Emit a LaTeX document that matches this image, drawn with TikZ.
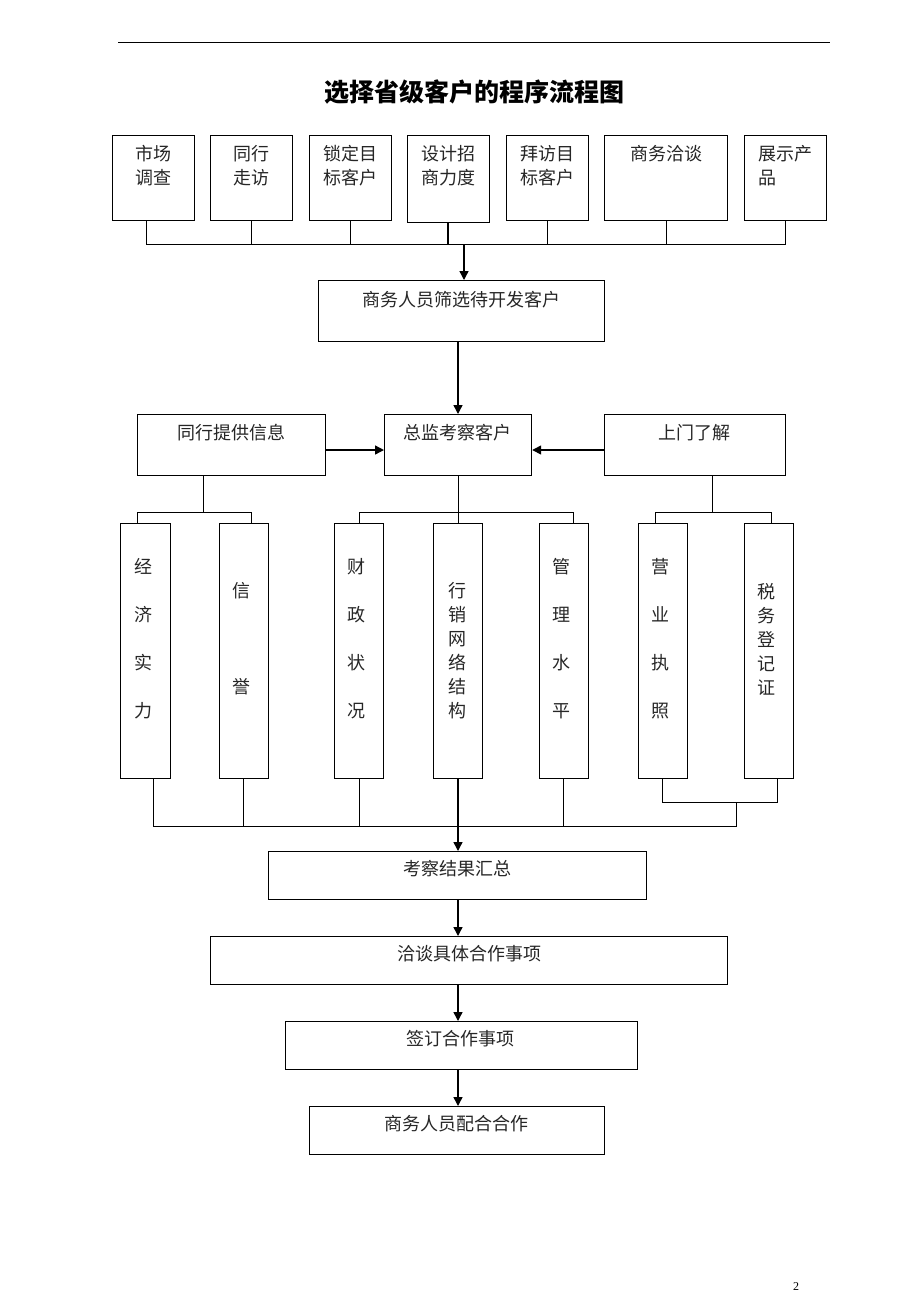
\documentclass[tikz,border=0pt]{standalone}
\usepackage{fontspec}
\setmainfont{Noto Sans CJK SC}
\newfontfamily\numfont{Liberation Serif}
\usetikzlibrary{arrows.meta}
\begin{document}
\begin{tikzpicture}[x=1pt,y=-1pt,
  box/.style={draw, line width=1.2pt, inner sep=0pt, anchor=north west},
  lbl/.style={inner sep=0pt, text=black!85, font=\fontsize{18}{24}\selectfont, align=center},
  vlbl/.style={inner sep=0pt, text=black!85, align=center},
  thinln/.style={line width=0.9pt},
  arr/.style={line width=1.4pt, -{Triangle[length=9pt,width=9pt]}}]
\useasboundingbox (0,0) rectangle (920,1302);
% top rule and title
\coordinate (rl) at (118,42);
\coordinate (rr) at (830,42);
\draw[line width=1pt] (rl) -- (rr);
\node[inner sep=0pt, font=\fontsize{25}{28}\selectfont\bfseries] (title) at (474,92) {选择省级客户的程序流程图};
% top row
\node[box, minimum width=82pt, minimum height=85pt] (b1) at (112,135) {};
\node[box, minimum width=82pt, minimum height=85pt] (b2) at (210,135) {};
\node[box, minimum width=82pt, minimum height=85pt] (b3) at (309,135) {};
\node[box, minimum width=82pt, minimum height=87pt] (b4) at (407,135) {};
\node[box, minimum width=82pt, minimum height=85pt] (b5) at (506,135) {};
\node[box, minimum width=123pt, minimum height=85pt] (b6) at (604,135) {};
\node[box, minimum width=82pt, minimum height=85pt] (b7) at (744,135) {};
\node[lbl] (t1) at (153,166) {市场\\调查};
\node[lbl] (t2) at (251,166) {同行\\走访};
\node[lbl] (t3) at (350,166) {锁定目\\标客户};
\node[lbl] (t4) at (448,166) {设计招\\商力度};
\node[lbl] (t5) at (547,166) {拜访目\\标客户};
\node[lbl] (t6) at (666,154) {商务洽谈};
\node[lbl, align=left] (t7) at (785,166) {展示产\\品};
% top bus
\coordinate (s1) at (146,244);
\coordinate (s2) at (251,244);
\coordinate (s3) at (350,244);
\coordinate (s4) at (448,244);
\coordinate (s5) at (547,244);
\coordinate (s6) at (666,244);
\coordinate (s7) at (785,244);
\coordinate (sa) at (464,244);
\draw[thinln] (b1.south -| s1) -- (s1) -- (s7) -- (b7.south -| s7);
\draw[thinln] (b2.south -| s2) -- (s2);
\draw[thinln] (b3.south -| s3) -- (s3);
\draw[line width=1.4pt] (b4.south -| s4) -- (s4);
\draw[thinln] (b5.south -| s5) -- (s5);
\draw[thinln] (b6.south -| s6) -- (s6);
% screening box
\node[box, minimum width=286pt, minimum height=61pt] (n1) at (318,280) {};
\node[lbl] (tn1) at (461,300) {商务人员筛选待开发客户};
\draw[arr] (sa) -- (n1.north -| sa);
% row 3
\node[box, minimum width=188pt, minimum height=61pt] (m1) at (137,414) {};
\node[box, minimum width=147pt, minimum height=61pt] (m2) at (384,414) {};
\node[box, minimum width=181pt, minimum height=61pt] (m3) at (604,414) {};
\node[lbl] (tm1) at (231,433) {同行提供信息};
\node[lbl] (tm2) at (457.5,433) {总监考察客户};
\node[lbl] (tm3) at (694.5,433) {上门了解};
\coordinate (x458) at (458,0);
\draw[arr] (n1.south -| x458) -- (m2.north -| x458);
\coordinate (ya) at (0,450);
\draw[arr] (m1.east |- ya) -- (m2.west |- ya);
\draw[arr] (m3.west |- ya) -- (m2.east |- ya);
% vertical boxes
\node[box, minimum width=50pt, minimum height=255pt] (v1) at (120,523) {};
\node[box, minimum width=49pt, minimum height=255pt] (v2) at (219,523) {};
\node[box, minimum width=49pt, minimum height=255pt] (v3) at (334,523) {};
\node[box, minimum width=49pt, minimum height=255pt] (v4) at (433,523) {};
\node[box, minimum width=49pt, minimum height=255pt] (v5) at (539,523) {};
\node[box, minimum width=49pt, minimum height=255pt] (v6) at (638,523) {};
\node[box, minimum width=49pt, minimum height=255pt] (v7) at (744,523) {};
\node[vlbl, font=\fontsize{18}{48}\selectfont] (tv1) at (143,639) {经\\济\\实\\力};
\node[vlbl, font=\fontsize{18}{96}\selectfont] (tv2) at (241,639) {信\\誉};
\node[vlbl, font=\fontsize{18}{48}\selectfont] (tv3) at (356,639) {财\\政\\状\\况};
\node[vlbl, font=\fontsize{18}{24}\selectfont] (tv4) at (457,651) {行\\销\\网\\络\\结\\构};
\node[vlbl, font=\fontsize{18}{48}\selectfont] (tv5) at (561,639) {管\\理\\水\\平};
\node[vlbl, font=\fontsize{18}{48}\selectfont] (tv6) at (660,639) {营\\业\\执\\照};
\node[vlbl, font=\fontsize{18}{24}\selectfont] (tv7) at (766,639) {税\\务\\登\\记\\证};
% branches from row 3
\coordinate (br1a) at (137,512);
\coordinate (br1b) at (251,512);
\coordinate (br1m) at (203,512);
\draw[thinln] (m1.south -| br1m) -- (br1m);
\draw[thinln] (v1.north -| br1a) -- (br1a) -- (br1b) -- (v2.north -| br1b);
\coordinate (br2a) at (359,512);
\coordinate (br2b) at (573,512);
\draw[thinln] (m2.south -| x458) -- (v4.north -| x458);
\draw[thinln] (v3.north -| br2a) -- (br2a) -- (br2b) -- (v5.north -| br2b);
\coordinate (br3a) at (655,512);
\coordinate (br3b) at (771,512);
\coordinate (br3m) at (712,512);
\draw[thinln] (m3.south -| br3m) -- (br3m);
\draw[thinln] (v6.north -| br3a) -- (br3a) -- (br3b) -- (v7.north -| br3b);
% bottom collection
\coordinate (c1) at (153,826);
\coordinate (c2) at (243,826);
\coordinate (c3) at (359,826);
\coordinate (c5) at (563,826);
\coordinate (c6) at (736,826);
\coordinate (d6) at (662,802);
\coordinate (d7) at (777,802);
\coordinate (d0) at (736,802);
\draw[thinln] (v1.south -| c1) -- (c1) -- (c6) -- (d0);
\draw[thinln] (v2.south -| c2) -- (c2);
\draw[thinln] (v3.south -| c3) -- (c3);
\draw[thinln] (v5.south -| c5) -- (c5);
\draw[thinln] (v6.south -| d6) -- (d6) -- (d7) -- (v7.south -| d7);
% result boxes
\node[box, minimum width=378pt, minimum height=48pt] (r1) at (268,851) {};
\node[box, minimum width=517pt, minimum height=48pt] (r2) at (210,936) {};
\node[box, minimum width=352pt, minimum height=48pt] (r3) at (285,1021) {};
\node[box, minimum width=295pt, minimum height=48pt] (r4) at (309,1106) {};
\node[lbl] (tr1) at (457,869) {考察结果汇总};
\node[lbl] (tr2) at (469,954) {洽谈具体合作事项};
\node[lbl] (tr3) at (460.5,1039) {签订合作事项};
\node[lbl] (tr4) at (456.5,1124) {商务人员配合合作};
\draw[arr] (v4.south -| x458) -- (r1.north -| x458);
\draw[arr] (r1.south -| x458) -- (r2.north -| x458);
\draw[arr] (r2.south -| x458) -- (r3.north -| x458);
\draw[arr] (r3.south -| x458) -- (r4.north -| x458);
% page number
\node[inner sep=0pt, font=\numfont\fontsize{12}{14}\selectfont] (pg) at (796,1287) {2};
\end{tikzpicture}
\end{document}
